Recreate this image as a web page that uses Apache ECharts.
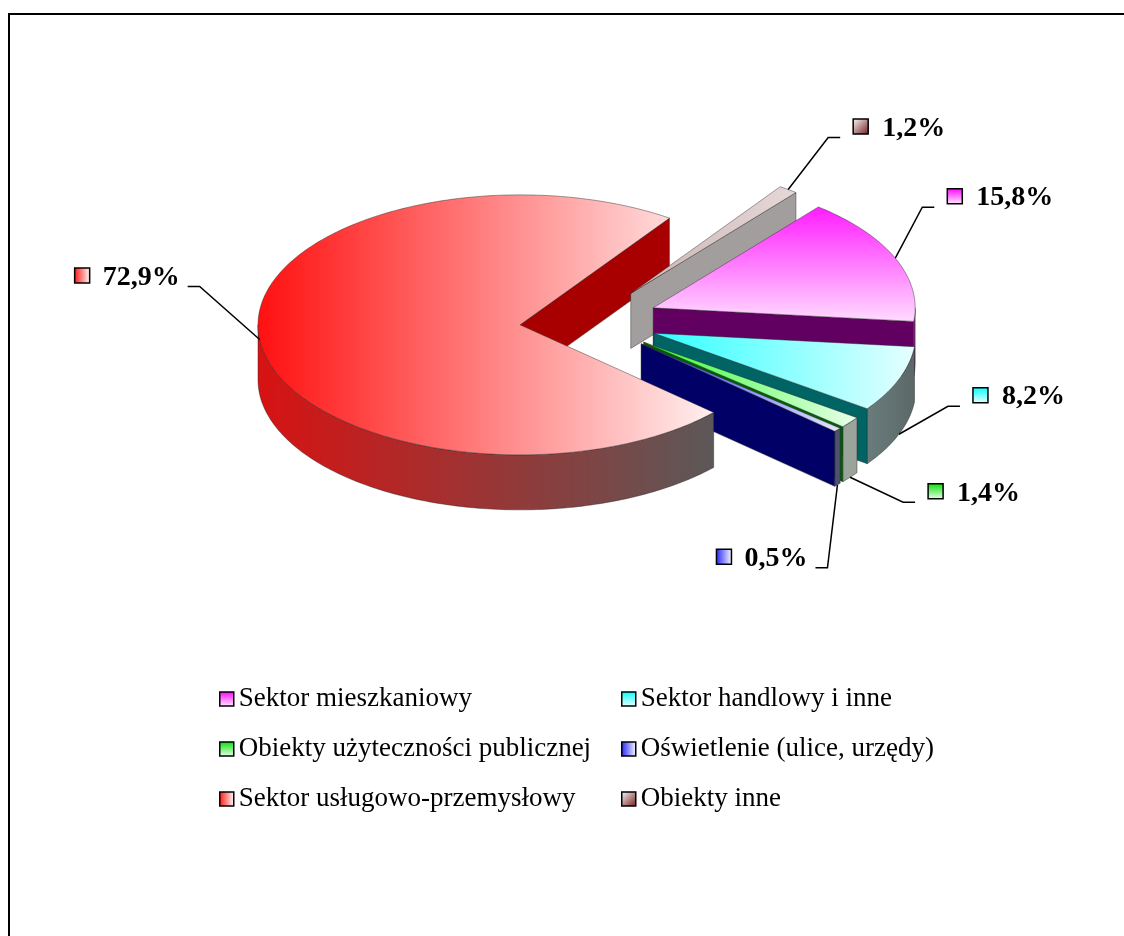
<!DOCTYPE html>
<html>
<head>
<meta charset="utf-8">
<script src="https://cdn.jsdelivr.net/npm/echarts@6/dist/echarts.min.js"></script>
<style>
html, body { margin: 0; padding: 0; background: #fff; }
#main { width: 1124px; height: 936px; }
</style>
</head>
<body>
<div id="main"></div>
<script>
var categories = ['Sektor mieszkaniowy', 'Sektor handlowy i inne', 'Obiekty użyteczności publicznej',
    'Oświetlenie (ulice, urzędy)', 'Sektor usługowo-przemysłowy', 'Obiekty inne'];
var shares = [15.8, 8.2, 1.4, 0.5, 72.9, 1.2];
var shareLabels = ['15,8%', '8,2%', '1,4%', '0,5%', '72,9%', '1,2%'];

// 3d pie look
var cx = 589, cy = 321, rx = 262, ry = 130, depth = 55;
var explode = 0.265;      // all slices pulled out
var firstAngle = 39.1;    // clockwise from 12 o'clock
var drawRank = [2, 3, 4, 5, 6, 1];   // back to front
var leaderOffsets = [[27, -51], [49, -28], [53, 25], [-10, 83], [-60, -53], [40, -52]];
var FONT = '"Times New Roman", "Liberation Serif", serif';

function lin(c1, c2, dir) {
    var e = dir === 'v' ? [0, 0, 0, 1] : dir === 'd' ? [0, 0, 1, 1] : [0, 0, 1, 0];
    return new echarts.graphic.LinearGradient(e[0], e[1], e[2], e[3], [
        { offset: 0, color: c1 }, { offset: 1, color: c2 }
    ]);
}
var topFill = [
    lin('#ff1cff', '#ffdcff', 'v'),
    lin('#30ffff', '#e6ffff', 'h'),
    lin('#30ff30', '#eaffea', 'h'),
    lin('#3030ff', '#e6e6ff', 'h'),
    lin('#ff1010', '#fff0f0', 'h'),
    lin('#cdb4b4', '#e6d8d8', 'h')
];
var wallFill = [
    '#8a2a8a',
    lin('#6a7c7c', '#5c6868', 'h'),
    '#9aa49a',
    '#505070',
    lin('#d81212', '#5c5858', 'h'),
    '#9c9898'
];
var cutFill = ['#620062', '#006464', '#006000', '#000066', '#a80000', '#a29e9e'];
var keyFill = [
    lin('#ff00ff', '#ffeeff', 'v'),
    lin('#00ffff', '#eeffff', 'v'),
    lin('#00e000', '#f0fff0', 'v'),
    lin('#2020ff', '#ffffff', 'h'),
    lin('#ff1010', '#ffffff', 'h'),
    lin('#ffffff', '#701818', 'd')
];

var total = shares.reduce(function (s, v) { return s + v; }, 0);
var startAngles = [], endAngles = [];
var acc = firstAngle;
shares.forEach(function (v) {
    startAngles.push(acc);
    acc += v / total * 360;
    endAngles.push(acc);
});

function rad(d) { return d * Math.PI / 180; }
function onRim(c, deg, dz) {
    return [c[0] + rx * Math.sin(rad(deg)), c[1] - ry * Math.cos(rad(deg)) + (dz || 0)];
}
function arc(c, a, b, dz) {
    var pts = [];
    var n = Math.max(2, Math.ceil(Math.abs(b - a)));
    for (var k = 0; k <= n; k++) pts.push(onRim(c, a + (b - a) * k / n, dz));
    return pts;
}

var measureCtx = document.createElement('canvas').getContext('2d');
function textWidth(t, font) {
    measureCtx.font = font;
    return measureCtx.measureText(t).width;
}

var edge = { stroke: 'rgba(40,40,40,0.55)', lineWidth: 0.8 };

function makeRender(i) {
    return function (params, api) {
        var val = api.value(0);
        var a = startAngles[i];
        var b = a + val / total * 360;
        var m = (a + b) / 2;
        var c = [cx + explode * rx * Math.sin(rad(m)), cy - explode * ry * Math.cos(rad(m))];
        var base = drawRank[i] * 10;
        var kids = [];

        // outer wall, only the front half shows
        [[90, 270], [450, 630]].forEach(function (w) {
            var lo = Math.max(a, w[0]), hi = Math.min(b, w[1]);
            if (hi > lo) {
                kids.push({
                    type: 'polygon', z2: base + 1,
                    shape: { points: arc(c, lo, hi, 0).concat(arc(c, hi, lo, depth)) },
                    style: Object.assign({ fill: wallFill[i] }, edge)
                });
            }
        });
        // cut faces
        function cut(ang, z2) {
            var p = onRim(c, ang, 0);
            kids.push({
                type: 'polygon', z2: z2,
                shape: { points: [c, p, [p[0], p[1] + depth], [c[0], c[1] + depth]] },
                style: Object.assign({ fill: cutFill[i] }, edge)
            });
        }
        if (Math.sin(rad(a)) < 0) cut(a, base + 2);
        if (Math.sin(rad(b)) > 0) cut(b, i === 4 ? 1 : base + 2);
        // top face
        kids.push({
            type: 'polygon', z2: base + 3,
            shape: { points: [c].concat(arc(c, a, b, 0)) },
            style: Object.assign({ fill: topFill[i] }, edge)
        });

        // data label with leader line and key
        var anchor = onRim(c, m, Math.cos(rad(m)) < -0.3 ? depth : 0);
        var off = leaderOffsets[i];
        var elbow = [anchor[0] + off[0], anchor[1] + off[1]];
        var left = off[0] < 0;
        var tail = [elbow[0] + (left ? -12 : 12), elbow[1]];
        kids.push({
            type: 'polyline', z2: 200,
            shape: { points: [anchor, elbow, tail] },
            style: { stroke: '#000', lineWidth: 1.5, fill: null }
        });
        var lblFont = 'bold 28px ' + FONT;
        var keyX, textX;
        if (left) {
            textX = elbow[0] - 20;
            keyX = textX - textWidth(shareLabels[i], lblFont) - 13 - 15;
        } else {
            keyX = elbow[0] + 25;
            textX = elbow[0] + 54;
        }
        kids.push({
            type: 'rect', z2: 200,
            shape: { x: keyX, y: elbow[1] - 18.5, width: 15, height: 15 },
            style: { fill: keyFill[i], stroke: '#000', lineWidth: 1.5 }
        });
        kids.push({
            type: 'text', z2: 200,
            style: {
                text: shareLabels[i], x: textX, y: elbow[1] - 9,
                font: lblFont, fill: '#000',
                align: left ? 'right' : 'left', verticalAlign: 'middle'
            }
        });
        return { type: 'group', children: kids };
    };
}

var series = categories.map(function (name, i) {
    return {
        type: 'custom',
        name: name,
        coordinateSystem: 'none',
        renderItem: makeRender(i),
        data: [[shares[i]]],
        itemStyle: { color: keyFill[i] }
    };
});

function legendCol(left, idx) {
    return {
        orient: 'vertical',
        left: left,
        top: 679,
        itemWidth: 14,
        itemHeight: 14,
        itemGap: 20,
        selectedMode: false,
        textStyle: { fontFamily: FONT, fontSize: 27, color: '#000', lineHeight: 30 },
        data: idx.map(function (k) {
            return {
                name: categories[k], icon: 'rect',
                itemStyle: { color: keyFill[k], borderColor: '#000', borderWidth: 1.5 }
            };
        })
    };
}

var option = {
    animation: false,
    backgroundColor: '#fff',
    graphic: [{
        type: 'rect', z: 0,
        shape: { x: 9, y: 14, width: 1300, height: 1100 },
        style: { fill: null, stroke: '#000', lineWidth: 2 }
    }],
    legend: [legendCol(214, [0, 2, 4]), legendCol(616, [1, 3, 5])],
    series: series
};

var chart = echarts.init(document.getElementById('main'));
chart.setOption(option);
</script>
</body>
</html>
